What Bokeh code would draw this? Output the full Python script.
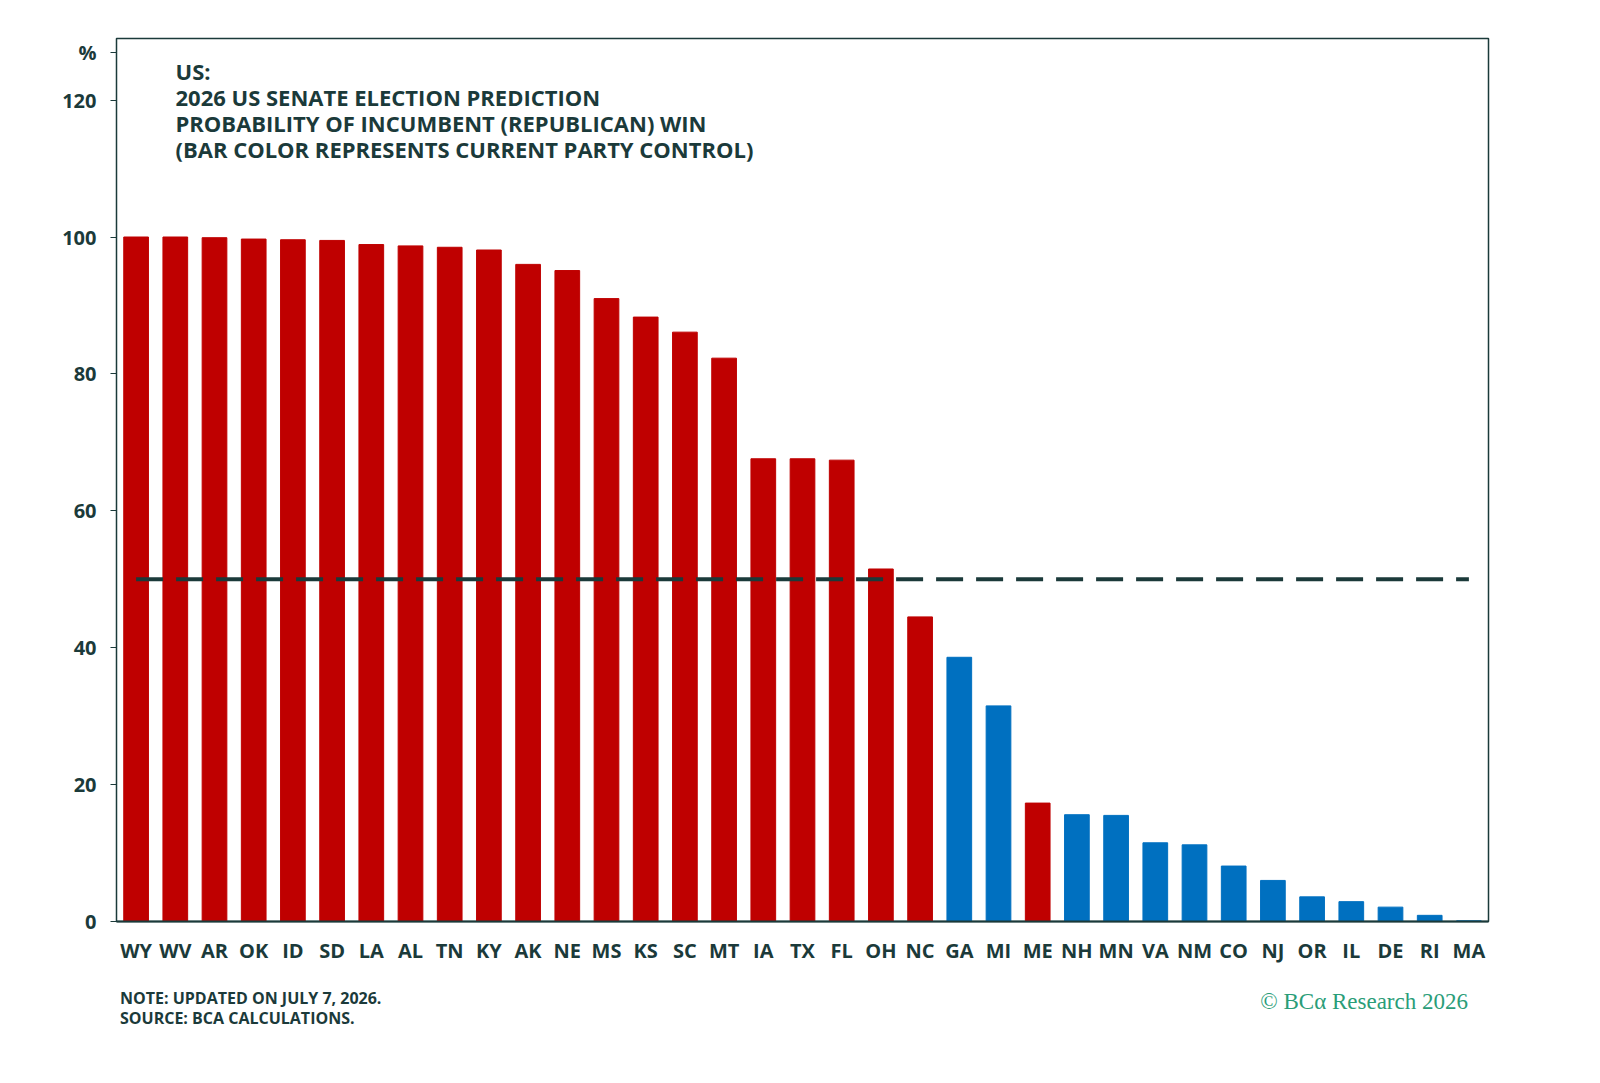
from bokeh.plotting import figure
from bokeh.models import Label, FixedTicker, Div
from bokeh.layouts import column, row
from bokeh.embed import file_html
from bokeh.resources import INLINE

states = ["WY", "WV", "AR", "OK", "ID", "SD", "LA", "AL", "TN", "KY", "AK", "NE",
          "MS", "KS", "SC", "MT", "IA", "TX", "FL", "OH", "NC", "GA", "MI", "ME",
          "NH", "MN", "VA", "NM", "CO", "NJ", "OR", "IL", "DE", "RI", "MA"]
prob = [100.0, 100.0, 99.9, 99.7, 99.6, 99.5, 98.9, 98.7, 98.5, 98.1, 96.0, 95.1,
        91.0, 88.3, 86.1, 82.3, 67.6, 67.6, 67.4, 51.5, 44.5, 38.6, 31.5, 17.3,
        15.6, 15.5, 11.5, 11.2, 8.1, 6.0, 3.6, 2.9, 2.1, 0.9, 0.1]
party = ["R"] * 21 + ["D", "D", "R"] + ["D"] * 11
threshold = 50
y_ticks = [0, 20, 40, 60, 80, 100, 120]

RED = "#bf0000"
BLUE = "#0070c0"
INK = "#1b3a3a"
FONT = "Open Sans"

colors = [RED if p == "R" else BLUE for p in party]

p = figure(width=1560, height=966, x_range=(-0.5, len(states) - 0.5), y_range=(0, 129),
           output_backend="svg", toolbar_location=None,
           min_border_left=116, min_border_top=38, min_border_right=72, min_border_bottom=40)

xs = list(range(len(states)))
p.vbar(x=xs, top=prob, bottom=0, width=0.63, color=colors)
p.line(x=[0, len(states) - 1], y=[threshold, threshold], line_color=INK,
       line_width=4, line_dash="27 13")

p.grid.visible = False
p.outline_line_color = INK
p.outline_line_width = 1.5

# the "%" unit sits as an extra label above 120
p.yaxis.ticker = FixedTicker(ticks=y_ticks + [127])
p.yaxis.major_label_overrides = {127: "%"}
p.yaxis.axis_line_color = None
p.yaxis.major_tick_in = 0
p.yaxis.major_tick_out = 6
p.yaxis.minor_tick_line_color = None
p.yaxis.major_tick_line_color = INK
p.yaxis.major_label_standoff = 14
p.yaxis.major_label_text_font = FONT
p.yaxis.major_label_text_font_style = "bold"
p.yaxis.major_label_text_font_size = "20px"
p.yaxis.major_label_text_color = INK

p.xaxis.ticker = FixedTicker(ticks=xs)
p.xaxis.major_label_overrides = {i: s for i, s in enumerate(states)}
p.xaxis.axis_line_color = INK
p.xaxis.axis_line_width = 2
p.xaxis.major_tick_line_color = None
p.xaxis.minor_tick_line_color = None
p.xaxis.major_label_standoff = 9
p.xaxis.major_label_text_font = FONT
p.xaxis.major_label_text_font_style = "bold"
p.xaxis.major_label_text_font_size = "20px"
p.xaxis.major_label_text_color = INK

title_lines = ["US:", "2026 US SENATE ELECTION PREDICTION",
               "PROBABILITY OF INCUMBENT (REPUBLICAN) WIN",
               "(BAR COLOR REPRESENTS CURRENT PARTY CONTROL)"]
for i, t in enumerate(title_lines):
    p.add_layout(Label(x=59, y=851 - 26 * i, x_units="screen", y_units="screen",
                       text=t, text_font=FONT, text_font_style="bold",
                       text_font_size="22px", text_color=INK, text_baseline="middle"))

notes = Div(text="NOTE: UPDATED ON JULY 7, 2026.<br>SOURCE: BCA CALCULATIONS.", width=900,
            styles={"font-family": FONT, "font-weight": "bold", "font-size": "16px",
                    "color": INK, "line-height": "20px", "margin-left": "120px",
                    "margin-top": "22px"})
credit = Div(text="© BCα Research 2026", width=438,
             styles={"font-family": "Liberation Serif", "font-size": "23px",
                     "color": "#2a9d78", "text-align": "right", "margin-top": "20px"})

layout = column(p, row(notes, credit))
open("out.html", "w").write(file_html(layout, INLINE))
